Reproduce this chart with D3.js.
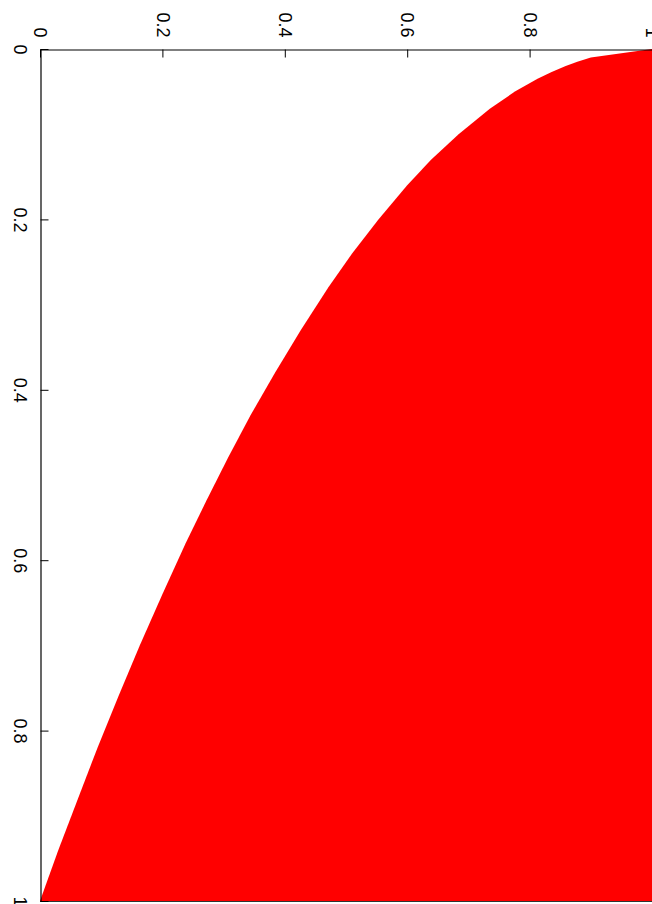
<!DOCTYPE html>
<html>
<head>
<meta charset="utf-8">
<script src="https://cdn.jsdelivr.net/npm/d3@7"></script>
<style>
  html, body { margin: 0; padding: 0; background: #fff; overflow: hidden; }
  svg { display: block; }
</style>
</head>
<body>
<svg id="chart"></svg>
<script>
// vertical position (left axis) and horizontal value (top axis) of the curve
const depth = [0, 0.01, 0.015, 0.02, 0.027, 0.035, 0.05, 0.07, 0.1, 0.13, 0.16, 0.2,
    0.24, 0.28, 0.33, 0.38, 0.43, 0.48, 0.53, 0.58, 0.64, 0.7,
    0.76, 0.82, 0.88, 0.94, 1];
const share = [1, 0.9, 0.878, 0.859, 0.836, 0.813, 0.776, 0.735, 0.684, 0.639, 0.6, 0.553,
    0.51, 0.471, 0.426, 0.384, 0.344, 0.307, 0.272, 0.238, 0.2, 0.163,
    0.128, 0.094, 0.062, 0.03, 0];
const tickValues = [0, 0.2, 0.4, 0.6, 0.8, 1];
const tickLabels = ["0", "0.2", "0.4", "0.6", "0.8", "1"];

const chartSettings = {
    width: 652,
    height: 904,
    left: 40,
    top: 49,
    right: 652,
    bottom: 901,
    tickLength: 8,
    fontSize: 18,
    fill: "#ff0000",
};

const svg = d3.select("#chart")
    .attr("width", chartSettings.width)
    .attr("height", chartSettings.height);

const xScale = d3.scaleLinear().domain([0, 1]).range([chartSettings.left, chartSettings.right]);
const yScale = d3.scaleLinear().domain([0, 1]).range([chartSettings.top, chartSettings.bottom]);

const points = depth.map((d, i) => ({ depth: d, share: share[i] }));

// red region between the curve and the right edge
const area = d3.area()
    .y(d => yScale(d.depth))
    .x0(d => xScale(d.share))
    .x1(() => xScale(1));

svg.append("path")
    .datum(points)
    .attr("fill", chartSettings.fill)
    .attr("d", area);

// bottom frame line
svg.append("line")
    .attr("x1", xScale(0)).attr("x2", xScale(1))
    .attr("y1", yScale(1) + 0.5).attr("y2", yScale(1) + 0.5)
    .attr("stroke", "#333");

const labelOf = d => tickLabels[tickValues.indexOf(d)];

function styleAxis(g) {
    g.attr("font-size", chartSettings.fontSize)
        .attr("font-family", "'Liberation Sans', Arial, sans-serif");
    g.selectAll("line").attr("stroke", "#000");
    g.select(".domain").attr("stroke", "#000").attr("stroke-width", 1.2);
    g.selectAll("text").attr("fill", "#000");
}

// top axis, ticks pointing into the plot, labels turned a quarter
const topAxis = svg.append("g")
    .attr("transform", `translate(0,${chartSettings.top + 0.5})`)
    .call(d3.axisTop(xScale)
        .tickValues(tickValues)
        .tickFormat(labelOf)
        .tickSizeInner(-chartSettings.tickLength)
        .tickSizeOuter(0))
    .call(styleAxis);

topAxis.selectAll(".tick text")
    .attr("x", -12)
    .attr("y", 0)
    .attr("dy", "0.35em")
    .attr("text-anchor", "end")
    .attr("transform", "rotate(90)");

// left axis
const leftAxis = svg.append("g")
    .attr("transform", `translate(${chartSettings.left + 0.5},0)`)
    .call(d3.axisLeft(yScale)
        .tickValues(tickValues)
        .tickFormat(labelOf)
        .tickSizeInner(-chartSettings.tickLength)
        .tickSizeOuter(0))
    .call(styleAxis);

leftAxis.selectAll(".tick text")
    .attr("x", 0)
    .attr("y", 27)
    .attr("dy", 0)
    .attr("text-anchor", "middle")
    .attr("transform", "rotate(90)");
</script>
</body>
</html>
